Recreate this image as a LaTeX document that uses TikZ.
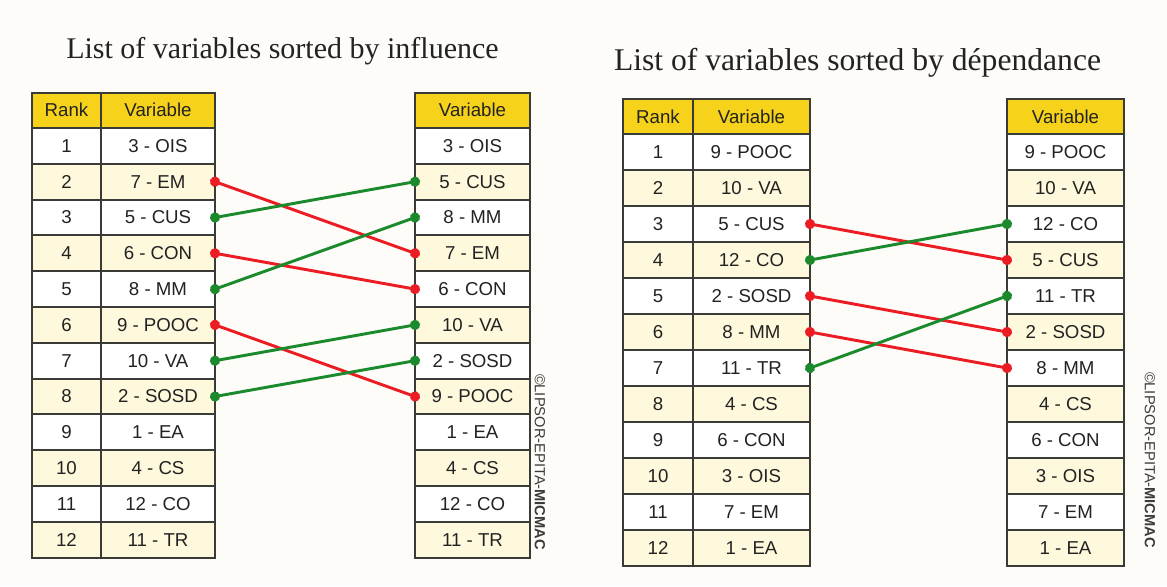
\documentclass[tikz,border=0pt]{standalone}
\usepackage{fontspec}
\setmainfont{Liberation Serif}
\setsansfont{Liberation Sans}
\usepackage{tikz}
\usetikzlibrary{arrows.meta,positioning}
\definecolor{paper}{HTML}{FDFCF8}
\definecolor{gridline}{HTML}{3A3A36}
\definecolor{headgold}{HTML}{F7D21A}
\definecolor{rowtint}{HTML}{FEF9DC}
\definecolor{inktext}{HTML}{222222}
\definecolor{downred}{HTML}{EC1C24}
\definecolor{upgreen}{HTML}{1B8A2C}
\tikzset{
  cellbox/.style={
    rectangle, draw=gridline, line width=1.5pt, fill=white,
    inner sep=0pt, outer sep=0pt,
    font=\sffamily\fontsize{14}{16}\selectfont, text=inktext
  },
  headbox/.style={cellbox, fill=headgold, minimum height=26.25pt},
  titletext/.style={
    font=\fontsize{#1}{27}\selectfont, text=inktext, inner sep=0pt
  },
  titletext/.default=22.5,
  stamp/.style={
    font=\sffamily\fontsize{11}{12}\selectfont, text=gridline,
    inner sep=0pt, rotate=-90
  },
  rankmove/.style={
    {Circle[length=7.5pt]}-{Circle[length=7.5pt]}, line width=2.2pt, color=#1,
    shorten <=-3.75pt, shorten >=-3.75pt
  },
  rankmove/.default=downred,
}

\begin{document}
\begin{tikzpicture}[x=0.75pt, y=-0.75pt]

% Page background fixes the frame
\fill[paper] (0,0) rectangle (1167,586);

% ── Sorted by influence ──
\node[titletext, anchor=base] (inf-title) at (282.5,58) {List of variables sorted by influence};
\node[headbox, minimum width=51.75pt] (inf-rank-0) at (66.5,110.1) {Rank};
\node[headbox, minimum width=85.5pt] (inf-var-0) at (158,110.1) {Variable};
\node[headbox, minimum width=86.25pt] (inf-new-0) at (472.5,110.1) {Variable};
\foreach \old/\new [count=\i] in {3 - OIS/3 - OIS, 7 - EM/5 - CUS, 5 - CUS/8 - MM,
    6 - CON/7 - EM, 8 - MM/6 - CON, 9 - POOC/10 - VA, 10 - VA/2 - SOSD,
    2 - SOSD/9 - POOC, 1 - EA/1 - EA, 4 - CS/4 - CS, 12 - CO/12 - CO, 11 - TR/11 - TR}{
  \ifodd\i \def\rowfill{white}\else \def\rowfill{rowtint}\fi
  \node[cellbox, fill=\rowfill, minimum width=51.75pt, minimum height=26.85pt]
    (inf-rank-\i) at (66.5,{128+35.8*(\i-0.5)}) {\i};
  \node[cellbox, fill=\rowfill, minimum width=85.5pt, minimum height=26.85pt]
    (inf-var-\i) at (158,{128+35.8*(\i-0.5)}) {\old};
  \node[cellbox, fill=\rowfill, minimum width=86.25pt, minimum height=26.85pt]
    (inf-new-\i) at (472.5,{128+35.8*(\i-0.5)}) {\new};
}
\node[stamp] (inf-stamp) at (540,462) {©LIPSOR-EPITA-\textbf{MICMAC}};

\draw[rankmove] (inf-var-2.east) -- (inf-new-4.west);
\draw[rankmove=upgreen] (inf-var-3.east) -- (inf-new-2.west);
\draw[rankmove] (inf-var-4.east) -- (inf-new-5.west);
\draw[rankmove=upgreen] (inf-var-5.east) -- (inf-new-3.west);
\draw[rankmove] (inf-var-6.east) -- (inf-new-8.west);
\draw[rankmove=upgreen] (inf-var-7.east) -- (inf-new-6.west);
\draw[rankmove=upgreen] (inf-var-8.east) -- (inf-new-7.west);

% ── Sorted by dependance ──
\node[titletext=23.7, anchor=base] (dep-title) at (857.5,70) {List of variables sorted by dépendance};
\node[headbox, minimum width=52.5pt] (dep-rank-0) at (658,116.5) {Rank};
\node[headbox, minimum width=87.75pt] (dep-var-0) at (751.5,116.5) {Variable};
\node[headbox, minimum width=87.75pt] (dep-new-0) at (1065.5,116.5) {Variable};
\foreach \old/\new [count=\i] in {9 - POOC/9 - POOC, 10 - VA/10 - VA, 5 - CUS/12 - CO,
    12 - CO/5 - CUS, 2 - SOSD/11 - TR, 8 - MM/2 - SOSD, 11 - TR/8 - MM,
    4 - CS/4 - CS, 6 - CON/6 - CON, 3 - OIS/3 - OIS, 7 - EM/7 - EM, 1 - EA/1 - EA}{
  \ifodd\i \def\rowfill{white}\else \def\rowfill{rowtint}\fi
  \node[cellbox, fill=\rowfill, minimum width=52.5pt, minimum height=27pt]
    (dep-rank-\i) at (658,{134+36*(\i-0.5)}) {\i};
  \node[cellbox, fill=\rowfill, minimum width=87.75pt, minimum height=27pt]
    (dep-var-\i) at (751.5,{134+36*(\i-0.5)}) {\old};
  \node[cellbox, fill=\rowfill, minimum width=87.75pt, minimum height=27pt]
    (dep-new-\i) at (1065.5,{134+36*(\i-0.5)}) {\new};
}
\node[stamp] (dep-stamp) at (1150,460) {©LIPSOR-EPITA-\textbf{MICMAC}};

\draw[rankmove] (dep-var-3.east) -- (dep-new-4.west);
\draw[rankmove=upgreen] (dep-var-4.east) -- (dep-new-3.west);
\draw[rankmove] (dep-var-5.east) -- (dep-new-6.west);
\draw[rankmove] (dep-var-6.east) -- (dep-new-7.west);
\draw[rankmove=upgreen] (dep-var-7.east) -- (dep-new-5.west);

\end{tikzpicture}
\end{document}
